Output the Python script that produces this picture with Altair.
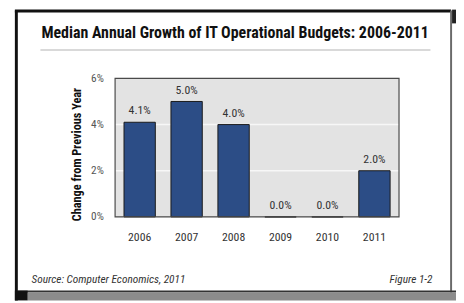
import altair as alt
import pandas as pd

years = ["2006", "2007", "2008", "2009", "2010", "2011"]
growth = [4.1, 5.0, 4.0, 0.0, 0.0, 2.0]
labels = ["4.1%", "5.0%", "4.0%", "0.0%", "0.0%", "2.0%"]
y_ticks = [0, 2, 4, 6]
grid_vals = [2, 4]
title_text = "Median Annual Growth of IT Operational Budgets: 2006-2011"
y_title = "Change from Previous Year"
source_text = "Source: Computer Economics, 2011"
figure_text = "Figure 1-2"

W, H = 289, 141
FONT = "Roboto Condensed"

df = pd.DataFrame({"year": years, "growth": growth, "label": labels})
grid_df = pd.DataFrame({"growth": grid_vals})
one = pd.DataFrame({"k": [0]})

x_scale = alt.Scale(domain=years, paddingInner=0.333, paddingOuter=0.19)
y_scale = alt.Scale(domain=[0, 6], nice=False)


def box(x, x2, y, y2, fill):
    return alt.Chart(one).mark_rect(fill=fill, strokeWidth=0).encode(
        x=alt.value(x), x2=alt.value(x2), y=alt.value(y), y2=alt.value(y2)
    )


def label(text, x, y, align="left", size=11, weight="normal", style="normal", color="#222"):
    return alt.Chart(one).mark_text(
        align=align, baseline="alphabetic", font=FONT, fontSize=size,
        fontWeight=weight, fontStyle=style, color=color
    ).encode(x=alt.value(x), y=alt.value(y), text=alt.value(text))


# card and frame
card = box(-101, 342, -69, 217, "#ffffff")
left_border = box(-102, -99, -69, 226, "#111111")
top_border = box(-102, 342, -70, -67, "#111111")
right_border = box(341, 343, -69, 218, "#6a6a6a")
right_dark = box(343, 347, -70, -56, "#222222")
bottom_line = box(-99, 347, 216, 218, "#333333")
bottom_band = box(-89, 347, 218, 226, "#8c8c8c")
bottom_block = box(-102, -89, 216, 226, "#111111")
underline = box(-76, 321, -30, -28, "#d9d9d9")

title = label(title_text, -75, -41, size=16.2, weight="bold", color="#111111")
source = label(source_text, -85, 208, size=11.5, style="italic", color="#333333")
figure = label(figure_text, 323, 208, align="right", size=11.5, style="italic", color="#333333")

plot_bg = box(0, W, 0, H, "#e3e3e3")

grid = alt.Chart(grid_df).mark_rule(color="#f7f7f7", strokeWidth=1.5).encode(
    y=alt.Y("growth:Q", scale=y_scale),
    x=alt.value(0), x2=alt.value(W),
)

bars = alt.Chart(df).mark_bar(
    fill="#2c4d86", stroke="#1a1a1a", strokeWidth=1
).encode(
    x=alt.X("year:N", scale=x_scale, sort=years, axis=alt.Axis(
        title=None, labelAngle=0, ticks=False, domain=False, labelPadding=15,
        labelFont=FONT, labelFontSize=12, labelColor="#333333", zindex=1)),
    y=alt.Y("growth:Q", scale=y_scale, axis=alt.Axis(
        values=y_ticks, labelExpr="datum.value + '%'", grid=False, ticks=False,
        domain=False, labelPadding=12, labelFont=FONT, labelFontSize=11.5,
        labelColor="#555555", title=y_title, titleFont=FONT, titleFontSize=12.5,
        titleFontWeight="bold", titleColor="#111111", titleX=-39, titleY=77,
        titleAngle=270, titleAlign="center", titleBaseline="middle", zindex=1)),
)

bar_labels = alt.Chart(df).mark_text(
    baseline="alphabetic", dy=-8, font=FONT, fontSize=12, color="#333333"
).encode(
    x=alt.X("year:N", scale=x_scale, sort=years),
    y=alt.Y("growth:Q", scale=y_scale),
    text="label:N",
)

plot_border = alt.Chart(one).mark_rect(
    fillOpacity=0, stroke="#4a4a4a", strokeWidth=1.2
).encode(x=alt.value(0), x2=alt.value(W), y=alt.value(0), y2=alt.value(H))

chart = alt.layer(
    card, left_border, top_border, right_border, right_dark, bottom_line,
    bottom_band, bottom_block, underline, title, source, figure,
    plot_bg, grid, bars, bar_labels, plot_border
).properties(
    width=W, height=H,
    padding={"left": 109, "top": 69, "right": 58, "bottom": 87},
    autosize=alt.AutoSizeParams(type="none"),
    background="#ffffff",
).configure_view(stroke=None)

chart.save("out.html", embed_options={"renderer": "svg", "actions": False})
